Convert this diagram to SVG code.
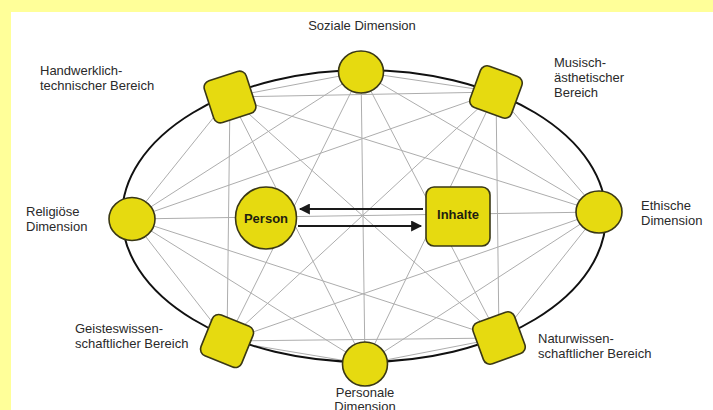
<svg xmlns="http://www.w3.org/2000/svg" width="713" height="410" viewBox="0 0 713 410">
<style>
.lbl{font-family:"Liberation Sans",Arial,sans-serif;font-size:13px;fill:#2a2a2a}
.mid{text-anchor:middle}
.bold{font-weight:bold;font-size:13px;fill:#1e1e10}
.node{fill:#e6da10;stroke:#3a3815;stroke-width:1.6}
.link{stroke:#adadad;stroke-width:1;fill:none}
.arr{stroke:#1a1a1a;stroke-width:2.2;fill:none}
</style>
<defs>
<marker id="ah" viewBox="0 0 10 10" refX="9" refY="5" markerWidth="5.5" markerHeight="5" markerUnits="strokeWidth" orient="auto">
<path d="M0,0 L10,5 L0,10 Z" fill="#1a1a1a"/>
</marker>
</defs>
<rect x="0" y="0" width="713" height="410" fill="#ffffff"/>
<rect x="0" y="0" width="713" height="12" fill="#ffff99"/>
<rect x="0" y="0" width="11" height="410" fill="#ffff99"/>

<g id="connectors">
<g class="link">
<line x1="361" y1="72" x2="230" y2="97"/>
<line x1="361" y1="72" x2="496" y2="92"/>
<line x1="361" y1="72" x2="132" y2="219"/>
<line x1="361" y1="72" x2="599" y2="212"/>
<line x1="361" y1="72" x2="227" y2="341"/>
<line x1="361" y1="72" x2="499" y2="338"/>
<line x1="361" y1="72" x2="365" y2="364"/>
<line x1="230" y1="97" x2="496" y2="92"/>
<line x1="230" y1="97" x2="132" y2="219"/>
<line x1="230" y1="97" x2="599" y2="212"/>
<line x1="230" y1="97" x2="227" y2="341"/>
<line x1="230" y1="97" x2="499" y2="338"/>
<line x1="230" y1="97" x2="365" y2="364"/>
<line x1="496" y1="92" x2="132" y2="219"/>
<line x1="496" y1="92" x2="599" y2="212"/>
<line x1="496" y1="92" x2="227" y2="341"/>
<line x1="496" y1="92" x2="499" y2="338"/>
<line x1="496" y1="92" x2="365" y2="364"/>
<line x1="132" y1="219" x2="599" y2="212"/>
<line x1="132" y1="219" x2="227" y2="341"/>
<line x1="132" y1="219" x2="499" y2="338"/>
<line x1="132" y1="219" x2="365" y2="364"/>
<line x1="599" y1="212" x2="227" y2="341"/>
<line x1="599" y1="212" x2="499" y2="338"/>
<line x1="599" y1="212" x2="365" y2="364"/>
<line x1="227" y1="341" x2="499" y2="338"/>
<line x1="227" y1="341" x2="365" y2="364"/>
<line x1="499" y1="338" x2="365" y2="364"/>
</g>
<ellipse cx="364" cy="216" rx="242" ry="146" fill="none" stroke="#111" stroke-width="2"/>
<line class="arr" x1="423" y1="209" x2="300" y2="209" marker-end="url(#ah)"/>
<line class="arr" x1="298" y1="226" x2="421" y2="226" marker-end="url(#ah)"/>
</g>

<g id="soziale">
<ellipse class="node" cx="361" cy="72" rx="22.5" ry="21"/>
<text class="lbl mid" x="362" y="30">Soziale Dimension</text>
</g>
<g id="handwerk">
<rect class="node" x="-22" y="-22" width="44" height="44" rx="7" transform="translate(230 97) rotate(-18)"/>
<text class="lbl" x="40" y="75">Handwerklich-</text>
<text class="lbl" x="40" y="90">technischer Bereich</text>
</g>
<g id="musisch">
<rect class="node" x="-22" y="-22" width="44" height="44" rx="7" transform="translate(496 92) rotate(20)"/>
<text class="lbl" x="554" y="67">Musisch-</text>
<text class="lbl" x="554" y="82">ästhetischer</text>
<text class="lbl" x="554" y="97">Bereich</text>
</g>
<g id="religioese">
<ellipse class="node" cx="132" cy="219" rx="23" ry="21.5"/>
<text class="lbl" x="26" y="216">Religiöse</text>
<text class="lbl" x="26" y="231">Dimension</text>
</g>
<g id="ethische">
<ellipse class="node" cx="599" cy="212" rx="23" ry="21"/>
<text class="lbl" x="641" y="210">Ethische</text>
<text class="lbl" x="641" y="225">Dimension</text>
</g>
<g id="geistes">
<rect class="node" x="-22" y="-22" width="44" height="44" rx="7" transform="translate(227 341) rotate(22)"/>
<text class="lbl" x="75" y="333">Geisteswissen-</text>
<text class="lbl" x="75" y="348">schaftlicher Bereich</text>
</g>
<g id="natur">
<rect class="node" x="-22" y="-22" width="44" height="44" rx="7" transform="translate(499 338) rotate(-20)"/>
<text class="lbl" x="538" y="343">Naturwissen-</text>
<text class="lbl" x="538" y="358">schaftlicher Bereich</text>
</g>
<g id="personale">
<ellipse class="node" cx="365" cy="364" rx="22.5" ry="22"/>
<text class="lbl mid" x="365" y="397">Personale</text>
<text class="lbl mid" x="365" y="411">Dimension</text>
</g>
<g id="person">
<ellipse class="node" cx="266" cy="218" rx="30.5" ry="31"/>
<text class="lbl mid bold" x="266" y="223">Person</text>
</g>
<g id="inhalte">
<rect class="node" x="426" y="187" width="64" height="59" rx="8"/>
<text class="lbl mid bold" x="458" y="219">Inhalte</text>
</g>
</svg>
